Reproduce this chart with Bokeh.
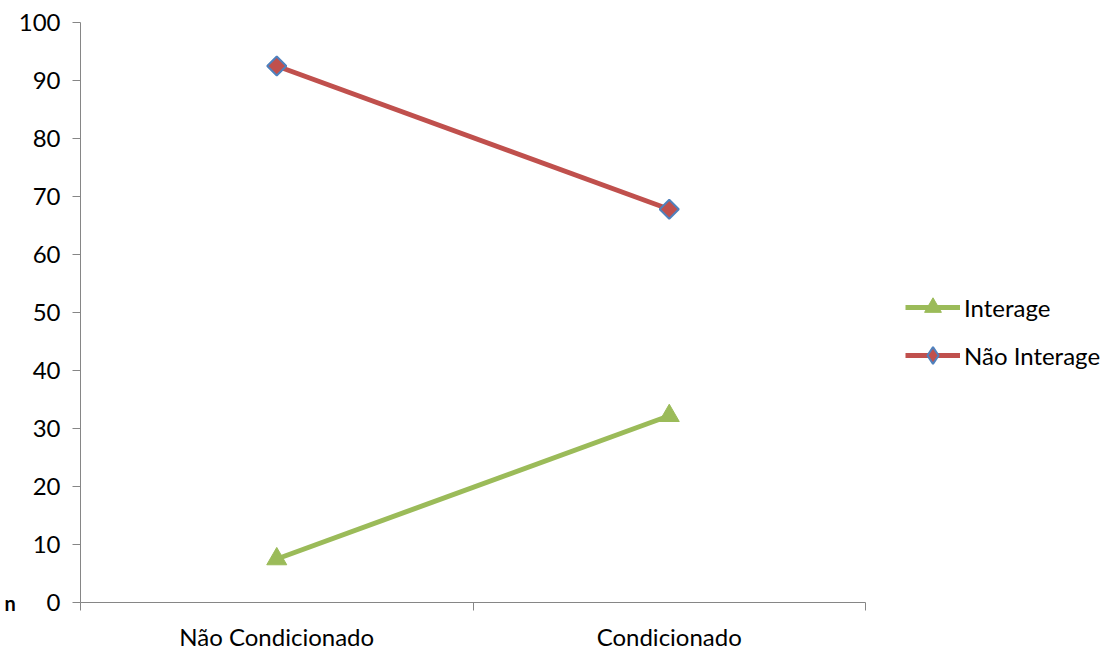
import math
from bokeh.plotting import figure
from bokeh.models import FixedTicker, Legend, LegendItem, Range1d
from bokeh.embed import file_html
from bokeh.resources import INLINE

categories = ["Não Condicionado", "Condicionado"]
interage = [7.5, 32.2]
nao_interage = [92.5, 67.8]
y_ticks = [0, 10, 20, 30, 40, 50, 60, 70, 80, 90, 100]

FONT = "Lato"
FS = "24px"
xs = [i + 0.5 for i in range(len(categories))]

p = figure(frame_width=785, frame_height=580, output_backend="svg", toolbar_location=None,
           x_range=Range1d(0, len(categories)), y_range=Range1d(0, 100),
           min_border_left=80, min_border_right=237, min_border_top=22, min_border_bottom=20)
p.outline_line_color = None
p.xgrid.visible = False
p.ygrid.visible = False

GREEN = "#9BBB59"
RED = "#C0504D"
BLUE = "#4F81BD"

l1 = p.line(xs, interage, line_color=GREEN, line_width=5)
m1 = p.scatter(xs, interage, marker="triangle", size=20, fill_color=GREEN, line_color=GREEN, line_width=1)
l2 = p.line(xs, nao_interage, line_color=RED, line_width=5)
m2 = p.scatter(xs, nao_interage, marker="square", angle=math.pi / 4, size=13.5,
               fill_color=RED, line_color=BLUE, line_width=2)
# legend-only proxy (draws nothing in the plot) so the legend shows a diamond
m2_key = p.scatter([float("nan")], [float("nan")], marker="diamond", size=13.5,
                   fill_color=RED, line_color=BLUE, line_width=2)

# axes
p.yaxis.ticker = FixedTicker(ticks=y_ticks)
p.yaxis.axis_line_color = "#868686"
p.yaxis.major_tick_line_color = "#868686"
p.yaxis.major_tick_in = 0
p.yaxis.major_tick_out = 8
p.yaxis.minor_tick_line_color = None
p.yaxis.major_label_standoff = 12
p.yaxis.major_label_text_font = FONT
p.yaxis.major_label_text_font_size = FS
p.yaxis.major_label_text_color = "black"
p.yaxis.axis_label = "n"
p.yaxis.axis_label_orientation = "horizontal"
p.yaxis.axis_label_align = "start"
p.yaxis.axis_label_standoff = 0
p.yaxis.axis_label_text_font = FONT
p.yaxis.axis_label_text_font_style = "bold"
p.yaxis.axis_label_text_font_size = "20px"
p.yaxis.axis_label_text_color = "black"

p.xaxis.ticker = FixedTicker(ticks=xs, minor_ticks=list(range(len(categories) + 1)))
p.xaxis.major_label_overrides = {x: c for x, c in zip(xs, categories)}
p.xaxis.axis_line_color = "#868686"
p.xaxis.major_tick_line_color = None
p.xaxis.major_tick_in = 0
p.xaxis.major_tick_out = 0
p.xaxis.minor_tick_line_color = "#868686"
p.xaxis.minor_tick_in = 0
p.xaxis.minor_tick_out = 8
p.xaxis.major_label_standoff = 11
p.xaxis.major_label_text_font = FONT
p.xaxis.major_label_text_font_size = FS
p.xaxis.major_label_text_color = "black"

legend = Legend(items=[LegendItem(label="Interage", renderers=[l1, m1]),
                       LegendItem(label="Não Interage", renderers=[l2, m2_key])],
                location=(40, 226), border_line_color=None, background_fill_alpha=0,
                glyph_width=55, glyph_height=42, label_standoff=4, spacing=6,
                label_text_font=FONT, label_text_font_size=FS, padding=0, margin=0,
                label_text_color="black")
p.add_layout(legend, "right")

open("out.html", "w").write(file_html(p, INLINE))
